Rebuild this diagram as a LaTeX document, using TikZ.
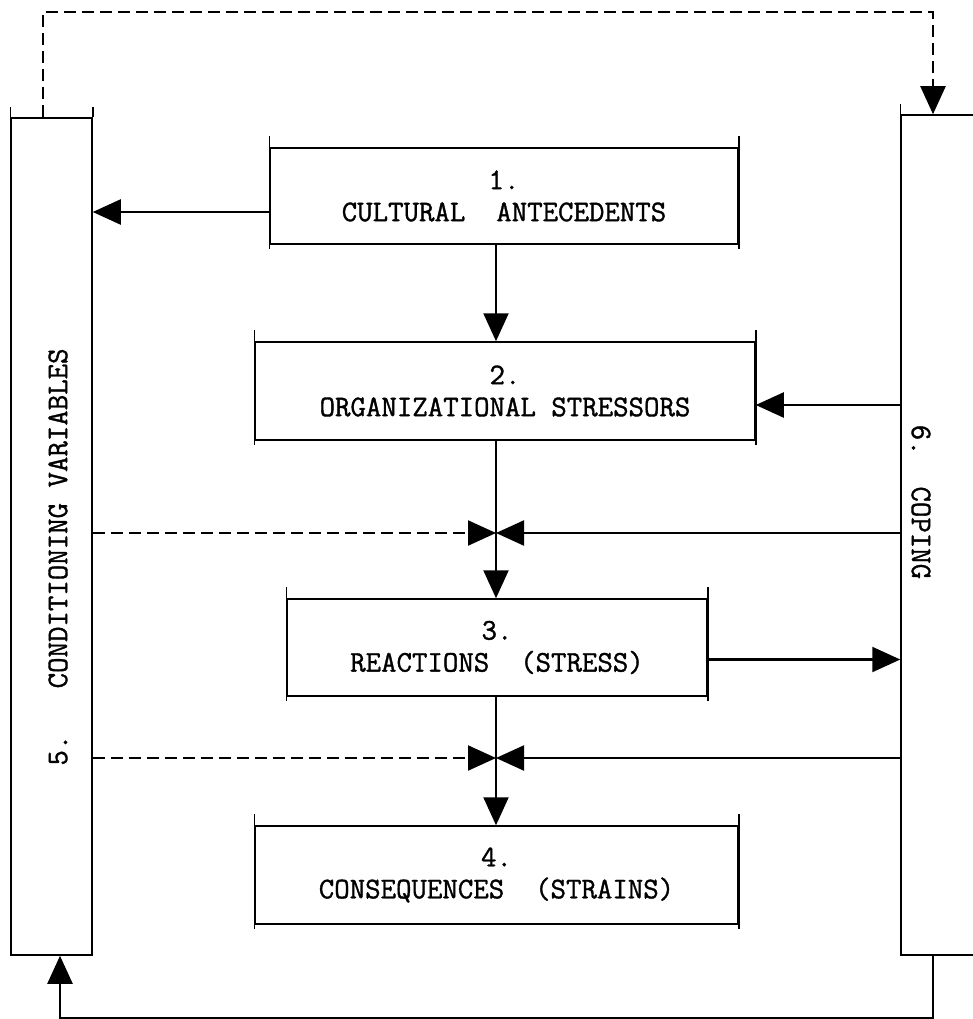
\documentclass[tikz,border=0pt]{standalone}
\usepackage{fontspec}
\setmonofont{Latin Modern Mono}[UprightFeatures={FakeBold=1.2}]
\usetikzlibrary{arrows.meta}
\newcommand{\labfont}{\fontsize{30}{32}\selectfont\ttfamily}
\tikzset{
  stage/.style={draw, line width=1.5pt, inner sep=0pt, align=center, font=\labfont},
  conn/.style={line width=2.2pt, -{Triangle[length=28pt,width=25pt]}},
  dashconn/.style={conn, dash pattern=on 12pt off 6pt},
}
\begin{document}
\begin{tikzpicture}[x=1pt,y=-1pt]
  \useasboundingbox (0,0) rectangle (973,1019);
  % side columns
  \node[stage, minimum width=81pt, minimum height=837pt] (cond) at (51.5,536.5) {};
  \node[stage, minimum width=89pt, minimum height=840pt] (coping) at (945.5,535) {};
  \node[font=\labfont, rotate=90] (condtext) at (58,557) {5.\ \ \ CONDITIONING VARIABLES};
  \node[font=\labfont, rotate=-90] (copingtext) at (921,502) {6.\ \ COPING};
  % stages
  \node[stage, minimum width=468pt, minimum height=96pt] (cult) at (504,196) {1.\\CULTURAL\ \ ANTECEDENTS};
  \node[stage, minimum width=500pt, minimum height=98pt] (org) at (505,391) {2.\\ORGANIZATIONAL STRESSORS};
  \node[stage, minimum width=420pt, minimum height=97pt] (react) at (497,647.5) {3.\\REACTIONS\ \ (STRESS)};
  \node[stage, minimum width=483pt, minimum height=98pt] (cons) at (496.5,875) {4.\\CONSEQUENCES\ \ (STRAINS)};
  % side strokes sticking out
  \foreach \n in {cult,org,react,cons} {
    \draw[line width=1.5pt] ([yshift=11pt]\n.north west) -- ([yshift=-4pt]\n.south west);
    \draw[line width=1.5pt] ([yshift=11pt]\n.north east) -- ([yshift=-4pt]\n.south east);
  }
  \draw[line width=1.5pt] ([yshift=10pt]cond.north west) -- (cond.north west);
  \draw[line width=1.5pt] ([yshift=10pt]cond.north east) -- (cond.north east);
  \draw[line width=1.5pt] ([yshift=10pt]coping.north west) -- (coping.north west);

  \coordinate (bow1) at (496,533);
  \coordinate (bow2) at (496,758);
  \coordinate (cultout) at ([yshift=-16pt]cult.west);
  \coordinate (orgin) at ([yshift=-14pt]org.east);
  \coordinate (reactout) at ([yshift=-12pt]react.east);
  \coordinate (loopL) at ([xshift=-8.5pt]cond.north);
  \coordinate (loopR) at ([xshift=-12.5pt]coping.north);
  \coordinate (backR) at ([xshift=-12.5pt]coping.south);
  \coordinate (backL) at ([xshift=8.5pt]cond.south);

  % main chain
  \draw[conn] (cultout) -- (cultout -| cond.east);
  \draw[conn] (cult.south -| bow1) -- (org.north -| bow1);
  \draw[conn] (coping.west |- orgin) -- (orgin);
  \draw[conn] (org.south -| bow1) -- (react.north -| bow1);
  \draw[conn] (reactout) -- (reactout -| coping.west);
  \draw[conn] (react.south -| bow1) -- (cons.north -| bow1);
  % bow ties
  \draw[dashconn] (cond.east |- bow1) -- (bow1);
  \draw[conn] (coping.west |- bow1) -- (bow1);
  \draw[dashconn] (cond.east |- bow2) -- (bow2);
  \draw[conn] (coping.west |- bow2) -- (bow2);
  % feedback loops
  \draw[dashconn] (loopL) -- ++(0,-105) -| (loopR);
  \draw[conn] (backR) -- ++(0,62) -| (backL);
\end{tikzpicture}
\end{document}
